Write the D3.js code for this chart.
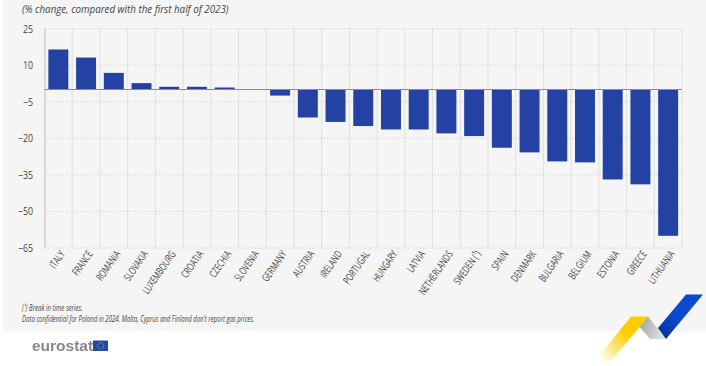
<!DOCTYPE html>
<html>
<head>
<meta charset="utf-8">
<script src="https://cdn.jsdelivr.net/npm/d3@7/dist/d3.min.js"></script>
<style>
  html, body { margin: 0; padding: 0; background: #fff; }
  svg { display: block; filter: blur(0.35px); }
  text { font-family: "Open Sans", sans-serif; fill: #444; }
</style>
</head>
<body>
<svg width="706" height="366"></svg>
<script>
var countries = [ "ITALY", "FRANCE", "ROMANIA", "SLOVAKIA", "LUXEMBOURG", "CROATIA", "CZECHIA", "SLOVENIA",
  "GERMANY", "AUSTRIA", "IRELAND", "PORTUGAL", "HUNGARY", "LATVIA", "NETHERLANDS", "SWEDEN (¹)", "SPAIN",
  "DENMARK", "BULGARIA", "BELGIUM", "ESTONIA", "GREECE", "LITHUANIA" ];

var changes = [ 16.4, 13.1, 6.8, 2.6, 1.1, 1.1, 0.8, 0, -2.5, -11.5, -13.3, -15, -16.4, -16.4, -18, -19.1,
  -23.9, -25.8, -29.5, -29.9, -36.9, -38.9, -60 ];

var yTicks = [ 25, 10, -5, -20, -35, -50, -65 ];

var subtitle = "(% change, compared with the first half of 2023)";
var notes = [ "(¹) Break in time series.",
  "Data confidential for Poland in 2024. Malta, Cyprus and Finland don't report gas prices." ];

var svg = d3.select( "svg" );

svg.append( "rect" )
  .attr( "x", 3 )
  .attr( "y", 0 )
  .attr( "width", 703 )
  .attr( "height", 331.5 )
  .attr( "fill", "#f5f5f5" );

var xScale = d3.scaleBand()
  .domain( countries )
  .range( [ 44.5, 682 ] )
  .paddingInner( 0.28 )
  .paddingOuter( 0.14 );

var yScale = d3.scaleLinear()
  .domain( [ 25, -65 ] )
  .range( [ 28.5, 248 ] );

// Grid

svg.append( "g" )
  .selectAll( "line" )
  .data( yTicks )
  .enter().append( "line" )
    .attr( "x1", 44.5 )
    .attr( "x2", 682 )
    .attr( "y1", d => yScale( d ) )
    .attr( "y2", d => yScale( d ) )
    .attr( "stroke", "#cfcfcf" )
    .attr( "stroke-width", 0.8 )
    .attr( "stroke-dasharray", "1.5 1.5" );

var step = xScale.step();

svg.append( "g" )
  .selectAll( "line" )
  .data( countries )
  .enter().append( "line" )
    .attr( "x1", d => xScale( d ) + xScale.bandwidth() + ( step - xScale.bandwidth() ) / 2 )
    .attr( "x2", d => xScale( d ) + xScale.bandwidth() + ( step - xScale.bandwidth() ) / 2 )
    .attr( "y1", 28.5 )
    .attr( "y2", 248 )
    .attr( "stroke", "#dcdcdc" )
    .attr( "stroke-width", 0.8 );

// Bars

svg.append( "g" )
  .selectAll( "rect" )
  .data( countries )
  .enter().append( "rect" )
    .attr( "x", d => xScale( d ) )
    .attr( "width", xScale.bandwidth() )
    .attr( "y", ( d, i ) => yScale( Math.max( changes[ i ], 0 ) ) )
    .attr( "height", ( d, i ) => Math.abs( yScale( changes[ i ] ) - yScale( 0 ) ) )
    .attr( "fill", "#2442a4" );

// Axes

var yAxis = d3.axisLeft( yScale )
  .tickValues( yTicks )
  .tickSize( 0 )
  .tickPadding( 0 );

var yGroup = svg.append( "g" )
  .attr( "transform", "translate(44.5,0)" )
  .call( yAxis );

yGroup.select( ".domain" )
  .attr( "stroke", "#bdbdbd" );

// no narrow font installed, so the text is squeezed sideways
yGroup.selectAll( "text" )
  .attr( "x", -11.5 / 0.8 )
  .attr( "transform", "scale(0.8,1)" )
  .attr( "fill", "#444" )
  .style( "font-family", "\"Open Sans\", sans-serif" )
  .style( "font-size", "11px" );

svg.append( "line" )
  .attr( "x1", 44.5 )
  .attr( "x2", 682 )
  .attr( "y1", yScale( 0 ) )
  .attr( "y2", yScale( 0 ) )
  .attr( "stroke", "#8a8a8a" )
  .attr( "stroke-width", 1.1 );

var xAxis = d3.axisBottom( xScale )
  .tickSize( 0 )
  .tickPadding( 0 );

var xGroup = svg.append( "g" )
  .attr( "transform", "translate(0,248)" )
  .call( xAxis );

xGroup.select( ".domain" ).remove();

xGroup.selectAll( "text" )
  .attr( "text-anchor", "end" )
  .attr( "dy", "0" )
  .attr( "y", 0 )
  .attr( "transform", "translate(7,6) rotate(-55) scale(0.7,1)" )
  .attr( "fill", "#444" )
  .style( "font-family", "\"Open Sans\", sans-serif" )
  .style( "font-size", "10.5px" );

// Texts

svg.append( "text" )
  .attr( "transform", "translate(22,12.5) scale(0.85,1)" )
  .style( "font-size", "11.5px" )
  .style( "font-style", "italic" )
  .text( subtitle );

svg.selectAll( "text.note" )
  .data( notes )
  .enter().append( "text" )
    .attr( "class", "note" )
    .attr( "transform", ( d, i ) => "translate(22," + ( 311 + i * 11 ) + ") scale(0.71,1)" )
    .style( "font-size", "8.5px" )
    .style( "font-style", "italic" )
    .text( d => d );

// Logo

svg.append( "text" )
  .attr( "x", 32 )
  .attr( "y", 351 )
  .style( "font-family", "\"Liberation Sans\", sans-serif" )
  .style( "font-size", "15.5px" )
  .style( "font-weight", "bold" )
  .style( "fill", "#85888e" )
  .text( "eurostat" );

svg.append( "rect" )
  .attr( "x", 93 )
  .attr( "y", 340.5 )
  .attr( "width", 15 )
  .attr( "height", 10.5 )
  .attr( "fill", "#1f4ba5" );

svg.append( "circle" )
  .attr( "cx", 100.5 )
  .attr( "cy", 345.7 )
  .attr( "r", 3 )
  .attr( "fill", "none" )
  .attr( "stroke", "#c9b24a" )
  .attr( "stroke-width", 1 )
  .attr( "stroke-dasharray", "1 1" );

// Ribbon

var defs = svg.append( "defs" );

function ribbonGradient( id, x1, y1, x2, y2, stops ) {
  var gradient = defs.append( "linearGradient" )
    .attr( "id", id )
    .attr( "gradientUnits", "userSpaceOnUse" )
    .attr( "x1", x1 ).attr( "y1", y1 )
    .attr( "x2", x2 ).attr( "y2", y2 );
  stops.forEach( s => gradient.append( "stop" )
    .attr( "offset", s[ 0 ] )
    .attr( "stop-color", s[ 1 ] )
    .attr( "stop-opacity", s[ 2 ] ) );
}

ribbonGradient( "ribbonYellow", 640, 318, 600, 361, [ [ 0.35, "#ffcc00", 1 ], [ 1, "#ffcc00", 0 ] ] );
ribbonGradient( "ribbonGrey", 642, 325, 668, 335, [ [ 0, "#a9abaf", 1 ], [ 1, "#eceded", 1 ] ] );
ribbonGradient( "ribbonBlue", 695, 295, 660, 338, [ [ 0, "#0b49d0", 1 ], [ 0.55, "#0b49d0", 1 ], [ 1, "#052f8f", 1 ] ] );

svg.append( "path" )
  .attr( "d", "M648,316.5 L666,339 L650,339 L639,326 Z" )
  .attr( "fill", "url(#ribbonGrey)" );

svg.append( "path" )
  .attr( "d", "M631,316.5 L648.5,316.5 L611,361 L595,361 Z" )
  .attr( "fill", "url(#ribbonYellow)" );

svg.append( "path" )
  .attr( "d", "M686,294.5 L703,294.5 L666,339 L658,328 Z" )
  .attr( "fill", "url(#ribbonBlue)" );
</script>
</body>
</html>
